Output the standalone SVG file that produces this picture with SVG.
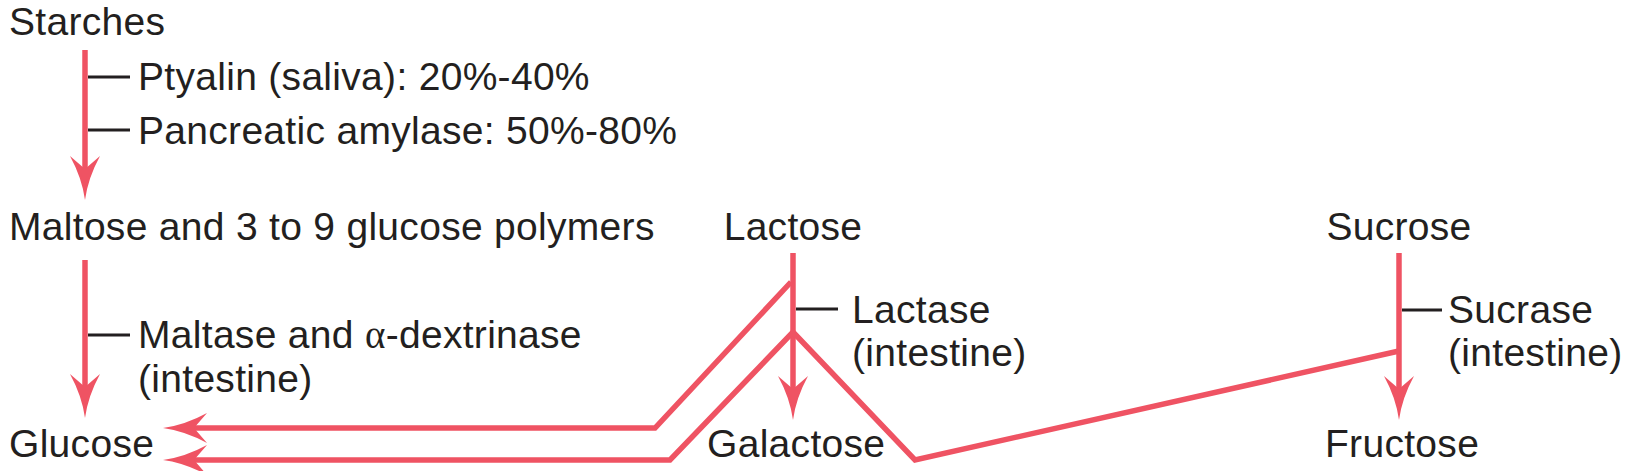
<svg xmlns="http://www.w3.org/2000/svg" xmlns:xlink="http://www.w3.org/1999/xlink" width="1638" height="471" viewBox="0 0 1638 471">
<style>
text{font-family:"Liberation Sans",Arial,Helvetica,sans-serif;font-size:39px;fill:#231f20;letter-spacing:0.3px}
.red{fill:none;stroke:#ef5363;stroke-width:5.5;stroke-linejoin:miter}
.tick{stroke:#231f20;stroke-width:3.2}
.head{fill:#ef5363}
</style>
<defs>
<path id="ah" d="M0,0 Q-3,-22 -15,-44 L0,-31 L15,-44 Q3,-22 0,0 Z"/>
</defs>
<rect width="1638" height="471" fill="#fff"/>
<g id="connectors">
<line class="red" x1="85" y1="50" x2="85" y2="180"/>
<use href="#ah" class="head" transform="translate(85,200)"/>
<line class="red" x1="85" y1="260" x2="85" y2="398"/>
<use href="#ah" class="head" transform="translate(85,418)"/>
<line class="red" x1="793" y1="253" x2="793" y2="400"/>
<use href="#ah" class="head" transform="translate(793,420)"/>
<line class="red" x1="1399" y1="253" x2="1399" y2="400"/>
<use href="#ah" class="head" transform="translate(1399,420)"/>
<polyline class="red" points="791,282 655,428 185,428"/>
<use href="#ah" class="head" transform="translate(163,428) rotate(90)"/>
<polyline class="red" points="1399,351 915,460 793,332 670,460 185,460"/>
<use href="#ah" class="head" transform="translate(163,460) rotate(90)"/>
<line class="tick" x1="88" y1="77" x2="130" y2="77"/>
<line class="tick" x1="88" y1="130" x2="130" y2="130"/>
<line class="tick" x1="88" y1="335" x2="130" y2="335"/>
<line class="tick" x1="796" y1="309" x2="838" y2="309"/>
<line class="tick" x1="1402" y1="310" x2="1442" y2="310"/>
</g>
<g id="starches"><text x="9" y="35">Starches</text></g>
<g id="ptyalin"><text x="138" y="90">Ptyalin (saliva): 20%-40%</text></g>
<g id="pancreatic"><text x="138" y="144">Pancreatic amylase: 50%-80%</text></g>
<g id="maltose"><text x="9" y="240">Maltose and 3 to 9 glucose polymers</text></g>
<g id="maltase"><text x="138" y="348">Maltase and <tspan font-family="Liberation Serif,serif">α</tspan>-dextrinase</text><text x="138" y="392">(intestine)</text></g>
<g id="glucose"><text x="9" y="457">Glucose</text></g>
<g id="lactose"><text x="793" y="240" text-anchor="middle">Lactose</text></g>
<g id="lactase"><text x="852" y="323">Lactase</text><text x="852" y="366">(intestine)</text></g>
<g id="galactose"><text x="707" y="457">Galactose</text></g>
<g id="sucrose"><text x="1399" y="240" text-anchor="middle">Sucrose</text></g>
<g id="sucrase"><text x="1448" y="323">Sucrase</text><text x="1448" y="366">(intestine)</text></g>
<g id="fructose"><text x="1325" y="457">Fructose</text></g>
</svg>
